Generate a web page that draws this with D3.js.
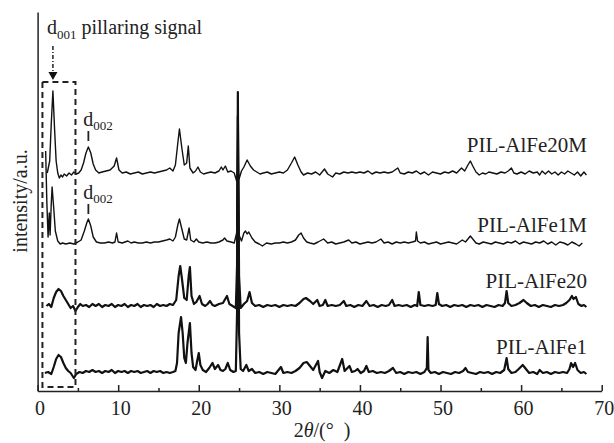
<!DOCTYPE html>
<html>
<head>
<meta charset="utf-8">
<script src="https://cdn.jsdelivr.net/npm/d3@7"></script>
<style>
  body { margin: 0; background: #fff; }
  svg text { font-family: "Liberation Serif", "Times New Roman", Times, "DejaVu Serif", serif; }
</style>
</head>
<body>
<script>
// XRD patterns, 2theta (deg) vs intensity (a.u., relative to each baseline)
const seriesNames = ['PIL-AlFe1', 'PIL-AlFe20', 'PIL-AlFe1M', 'PIL-AlFe20M']
const seriesOffsets = [18, 85, 148, 218]

const alfe1 = [[0.9,0],[1.3,1],[1.7,-1],[2.0,6],[2.3,14],[2.6,18],[2.9,16],[3.2,10],[3.5,5],[3.8,2],[4.1,0],[4.5,-5],[4.8,-1],[5.2,1],[5.6,0],[6,2],[6.4,1],[6.8,3],[7.2,1],[7.6,2],[8,0],[8.4,2],[8.8,1],[9.2,3],[9.6,0],[10,2],[10.4,1],[10.8,2],[11.2,0],[11.6,2],[12,1],[12.4,2],[12.8,0],[13.2,1],[13.6,2],[14,0],[14.4,2],[14.8,1],[15.2,2],[15.6,0],[16,1],[16.4,0],[16.8,1],[17.1,2],[17.3,10],[17.5,40],[17.8,56],[18.0,40],[18.2,15],[18.4,10],[18.6,30],[18.9,50],[19.1,20],[19.3,6],[19.6,3],[19.8,12],[20.0,20],[20.2,8],[20.5,3],[20.9,1],[21.3,5],[21.7,10],[22.0,4],[22.4,8],[22.7,3],[23.0,2],[23.3,4],[23.6,10],[23.9,3],[24.3,1],[24.6,2],[24.75,60],[24.85,281],[25.0,40],[25.2,4],[25.5,2],[25.9,8],[26.2,2],[26.6,4],[27,0],[27.5,1],[28,-1],[28.5,1],[29,0],[29.5,-1],[30.2,6],[30.5,0],[31,1],[31.5,0],[32,2],[32.5,5],[33.0,10],[33.4,11],[33.8,7],[34.2,3],[34.8,12],[35.0,1],[35.3,-5],[35.7,2],[36.2,0],[36.7,3],[37.2,1],[37.8,14],[38.1,2],[38.7,7],[39.0,1],[39.4,2],[39.7,4],[40.1,0],[40.5,2],[40.8,7],[41.1,1],[41.6,2],[42.1,0],[42.6,1],[43.1,0],[43.6,2],[44.1,5],[44.5,0],[45,1],[45.5,-1],[46,1],[46.5,0],[47,1],[47.5,-1],[48,1],[48.3,5],[48.4,36],[48.5,3],[48.8,0],[49.3,1],[49.8,-1],[50.3,1],[50.8,0],[51.3,-1],[51.8,1],[52.3,0],[52.8,2],[53.1,5],[53.4,1],[53.9,0],[54.4,-1],[54.9,1],[55.4,0],[55.9,1],[56.4,-1],[56.9,1],[57.4,0],[57.9,3],[58.2,15],[58.4,4],[58.8,0],[59.3,1],[59.7,4],[60.2,8],[60.6,4],[61.0,0],[61.5,1],[62.0,-1],[62.3,3],[62.7,0],[63.2,1],[63.7,-1],[64.2,1],[64.7,0],[65.2,1],[65.7,0],[66.0,4],[66.2,10],[66.45,6],[66.7,10],[67.0,3],[67.4,0],[67.8,1],[68.1,-1]]

const alfe20 = [[1.1,0],[1.4,2],[1.7,-1],[2.0,8],[2.3,14],[2.6,17],[2.9,15],[3.2,10],[3.5,6],[3.8,2],[4.1,-2],[4.4,0],[4.7,-5],[5.0,-1],[5.3,2],[5.6,0],[6,1],[6.4,-1],[6.8,2],[7.2,0],[7.6,2],[8,-1],[8.4,1],[8.8,0],[9.2,2],[9.6,-1],[10,1],[10.4,0],[10.8,2],[11.2,-1],[11.6,1],[12,0],[12.4,2],[12.8,-1],[13.2,1],[13.6,0],[14,1],[14.4,-1],[14.8,2],[15.2,0],[15.6,1],[16,0],[16.4,2],[16.8,1],[17.2,6],[17.5,30],[17.7,40],[17.9,28],[18.2,8],[18.5,6],[18.75,30],[18.9,39],[19.1,10],[19.4,2],[19.7,4],[20.1,10],[20.4,2],[20.8,0],[21.1,2],[21.4,5],[21.7,1],[22,0],[22.5,2],[23.0,3],[23.5,10],[23.8,2],[24.2,0],[24.6,-2],[24.75,40],[24.85,190],[25.0,30],[25.2,-2],[25.6,2],[26.0,5],[26.3,14],[26.6,3],[27,0],[27.5,1],[28,-1],[28.5,1],[29,0],[29.5,1],[30,-1],[30.5,1],[31,0],[31.5,1],[32,0],[32.5,3],[33.0,7],[33.3,8],[33.8,5],[34.2,2],[34.7,6],[35.0,0],[35.4,1],[35.7,6],[36,0],[36.5,1],[37,0],[37.5,1],[38.0,5],[38.3,0],[38.8,1],[39.3,-1],[39.8,1],[40.3,0],[40.8,5],[41.2,0],[41.7,1],[42.2,-1],[42.7,1],[43.2,0],[43.6,1],[44.0,6],[44.3,0],[44.8,1],[45.3,0],[45.8,1],[46.3,-1],[46.8,1],[47.1,0],[47.3,14],[47.5,1],[48,0],[48.5,1],[49,0],[49.4,1],[49.6,13],[49.8,2],[50.2,0],[50.7,1],[51.2,-1],[51.7,1],[52.2,0],[52.7,1],[53.2,-1],[53.7,1],[54.2,0],[54.7,1],[55.2,-1],[55.7,1],[56.2,0],[56.7,-1],[57.2,1],[57.7,0],[58.0,3],[58.2,15],[58.4,3],[58.8,0],[59.3,1],[59.8,3],[60.3,6],[60.7,3],[61.2,0],[61.7,1],[62.2,-1],[62.7,1],[63.2,0],[63.7,-1],[64.2,1],[64.7,0],[65.2,1],[65.6,3],[66.0,6],[66.3,10],[66.5,7],[66.8,9],[67.1,2],[67.5,0],[67.8,1],[68.1,-1]]

const alfe1m = [[1.0,92],[1.15,40],[1.3,6],[1.45,30],[1.55,8],[1.7,40],[1.8,56],[2.0,35],[2.2,12],[2.5,2],[2.8,-1],[3.1,0],[3.5,-1],[4,0],[4.5,-1],[5.0,1],[5.4,3],[5.8,12],[6.1,20],[6.3,24],[6.6,17],[6.9,6],[7.3,1],[7.8,0],[8.3,0],[8.8,1],[9.3,0],[9.6,1],[9.8,10],[10.0,1],[10.5,0],[11.2,2],[11.6,0],[12,1],[12.5,0],[13,0],[13.5,1],[14,0],[14.5,1],[15,1],[15.5,2],[16,3],[16.4,4],[16.8,2],[17.1,6],[17.4,18],[17.6,24],[17.9,14],[18.2,4],[18.5,3],[18.8,15],[19.0,3],[19.4,1],[19.7,4],[20.0,1],[20.5,0],[21,1],[21.5,0],[22,0],[22.5,1],[23,3],[23.2,5],[23.5,2],[24,1],[24.4,0],[24.7,10],[24.85,120],[25.0,8],[25.3,2],[25.6,10],[25.8,12],[26.0,9],[26.2,11],[26.6,5],[27.0,1],[27.5,-1],[27.9,-3],[28.4,0],[29,-1],[29.5,0],[30,0],[30.5,1],[31,0],[31.5,1],[32,3],[32.4,8],[32.7,10],[33.0,5],[33.4,1],[33.8,0],[34.3,-1],[34.8,1],[35.5,4],[36,0],[36.5,1],[37,-1],[37.5,0],[38,1],[38.6,3],[39,0],[39.5,1],[40,-1],[40.5,0],[41,1],[41.5,0],[42,1],[42.6,4],[43,0],[43.5,1],[44,-1],[44.5,1],[45,0],[45.5,1],[46,0],[46.5,1],[46.9,2],[47.0,11],[47.15,2],[47.5,0],[48,1],[48.5,-1],[49,0],[49.5,1],[50,-1],[50.5,0],[51,1],[51.5,0],[52,-1],[52.7,3],[53.1,1],[53.5,5],[53.7,7],[54.0,4],[54.4,0],[54.8,-1],[55.3,1],[55.8,0],[56.3,-1],[56.8,1],[57.3,0],[57.8,-1],[58.3,1],[58.8,0],[59.3,2],[59.8,-1],[60.3,1],[60.8,0],[61.3,-1],[61.8,1],[62.3,0],[62.8,2],[63.3,-1],[63.8,1],[64.3,-2],[64.8,1],[65.3,0],[65.8,-2],[66.3,1],[66.8,-1],[67.2,-3],[67.6,0]]

const alfe20m = [[1.2,0],[1.5,12],[1.7,50],[1.9,82],[2.1,45],[2.3,12],[2.5,0],[2.7,-5],[2.9,-2],[3.1,-4],[3.3,-1],[3.6,-3],[3.9,0],[4.2,-2],[4.5,1],[4.8,-1],[5.1,0],[5.4,3],[5.7,10],[6.0,20],[6.3,26],[6.6,20],[6.9,9],[7.2,3],[7.6,0],[8.0,1],[8.5,2],[9.0,3],[9.5,7],[9.8,15],[10.1,3],[10.5,0],[11,1],[11.5,-1],[12,0],[12.5,1],[13,-1],[13.5,0],[14,1],[14.5,0],[15,1],[15.5,2],[16,3],[16.4,5],[16.8,2],[17.1,8],[17.4,30],[17.6,44],[17.9,25],[18.2,8],[18.5,10],[18.7,27],[18.9,5],[19.3,0],[19.6,2],[19.9,6],[20.2,1],[20.6,-1],[21,0],[21.5,1],[22,0],[22.5,2],[22.8,6],[23.0,3],[23.3,7],[23.6,1],[24,2],[24.4,0],[24.7,-8],[24.85,5],[25.0,-6],[25.3,2],[25.6,6],[26.0,13],[26.4,7],[26.8,3],[27.2,1],[27.6,-1],[28,0],[28.5,1],[29,-1],[29.5,0],[30,1],[30.5,0],[31.0,3],[31.5,10],[31.9,16],[32.3,8],[32.7,1],[33,-2],[33.5,0],[34,-1],[34.5,1],[35,-2],[35.6,4],[36,-1],[36.6,-4],[37,0],[37.5,-1],[38,1],[38.5,0],[39,1],[39.5,0],[40,1],[40.5,0],[41,2],[41.5,-1],[42,1],[42.5,0],[43,1],[43.5,0],[44,1],[44.7,5],[45,0],[45.5,-1],[46,1],[46.5,0],[47,2],[47.5,-1],[48,1],[48.5,-2],[49,1],[49.5,0],[50,-1],[50.5,1],[51,0],[51.5,2],[52,0],[52.6,5],[53.0,2],[53.4,8],[53.7,12],[54.0,7],[54.4,1],[54.8,-2],[55.2,0],[55.6,-1],[56,1],[56.5,0],[57,-1],[57.5,1],[58,0],[58.4,2],[58.8,5],[59.1,0],[59.5,-1],[60,1],[60.5,-1],[61,2],[61.5,0],[62,1],[62.3,-2],[62.6,2],[63,-1],[63.4,2],[63.8,-1],[64.2,1],[64.6,-2],[65,1],[65.4,-1],[65.8,2],[66.2,0],[66.6,-2],[67,1],[67.4,-3],[67.8,1],[68.1,-2]]

const seriesData = [alfe1, alfe20, alfe1m, alfe20m]

const xMajorTicks = [0, 10, 20, 30, 40, 50, 60, 70]
const xMinorTicks = [5, 15, 25, 35, 45, 55, 65]

// d001 / d002 annotations (2theta positions)
const d001Box = [0.6, 4.7]
const d002Pos = 6.3

const width = 614
const height = 443

const x = d3.scaleLinear().domain([0, 70]).range([37.6, 601.7])
const y = d3.scaleLinear().domain([0, 379]).range([391, 12])

const svg = d3.select('body').append('svg')
  .attr('width', width)
  .attr('height', height)

svg.append('rect').attr('width', width).attr('height', height).attr('fill', '#fff')

// curves
const line = d3.line()
  .x(d => x(d[0]))
  .y(d => y(d[1]))

const strokeW = [2.2, 2.2, 1.4, 1.4]
seriesData.forEach(function (data, i) {
  const off = seriesOffsets[i]
  svg.append('path')
    .datum(data.map(d => [d[0], d[1] + off]))
    .attr('fill', 'none')
    .attr('stroke', '#111')
    .attr('stroke-width', strokeW[i])
    .attr('stroke-linejoin', 'round')
    .attr('d', line)
})

// series labels
const labelLift = [19, 18, 11, 21]
seriesNames.forEach(function (name, i) {
  svg.append('text')
    .attr('x', 587)
    .attr('y', y(seriesOffsets[i]) - labelLift[i])
    .attr('text-anchor', 'end')
    .attr('font-size', 21)
    .attr('fill', '#222')
    .text(name)
})

// axes
const axisMajor = d3.axisBottom(x)
  .tickValues(xMajorTicks)
  .tickSizeInner(-6)
  .tickSizeOuter(0)
  .tickPadding(10)
  .tickFormat(d3.format('d'))
const gx = svg.append('g')
  .attr('transform', 'translate(0,' + y(0) + ')')
  .call(axisMajor)
gx.attr('font-family', null)
gx.selectAll('text').attr('font-size', 20).attr('fill', '#222').attr('dx', 2)
gx.selectAll('line, path').attr('stroke', '#222').attr('stroke-width', 1.5)

const axisMinor = d3.axisBottom(x)
  .tickValues(xMinorTicks)
  .tickSizeInner(-3)
  .tickSizeOuter(0)
  .tickFormat('')
const gm = svg.append('g')
  .attr('transform', 'translate(0,' + y(0) + ')')
  .call(axisMinor)
gm.select('.domain').remove()
gm.selectAll('line').attr('stroke', '#222').attr('stroke-width', 1.5)

const gy = svg.append('g')
  .attr('transform', 'translate(' + x(0) + ',0)')
  .call(d3.axisLeft(y).tickValues([]).tickSizeOuter(0))
gy.selectAll('path').attr('stroke', '#222').attr('stroke-width', 1.5)

// axis titles
const xt = svg.append('text')
  .attr('x', 322)
  .attr('y', 437)
  .attr('text-anchor', 'middle')
  .attr('font-size', 20)
  .attr('fill', '#222')
xt.append('tspan').text('2')
xt.append('tspan').attr('font-style', 'italic').text('θ')
xt.append('tspan').text('/(°\u2002)')

svg.append('text')
  .attr('transform', 'translate(27,201) rotate(-90)')
  .attr('text-anchor', 'middle')
  .attr('font-size', 20)
  .attr('fill', '#222')
  .text('intensity/a.u.')

// d001 dashed box + arrow
svg.append('rect')
  .attr('x', x(d001Box[0]))
  .attr('y', 82)
  .attr('width', x(d001Box[1]) - x(d001Box[0]))
  .attr('height', 387 - 82)
  .attr('fill', 'none')
  .attr('stroke', '#222')
  .attr('stroke-width', 2)
  .attr('stroke-dasharray', '6,4')

const ax = x(1.9)
svg.append('line')
  .attr('x1', ax).attr('x2', ax)
  .attr('y1', 46).attr('y2', 72)
  .attr('stroke', '#222')
  .attr('stroke-width', 1.5)
  .attr('stroke-dasharray', '4,2,1,2')
svg.append('path')
  .attr('d', 'M' + (ax - 4.5) + ',72 L' + (ax + 4.5) + ',72 L' + ax + ',80 Z')
  .attr('fill', '#111')

const t1 = svg.append('text')
  .attr('x', 47)
  .attr('y', 34)
  .attr('font-size', 20)
  .attr('fill', '#222')
t1.append('tspan').text('d')
t1.append('tspan').attr('font-size', 13).attr('dy', 5).text('001')
t1.append('tspan').attr('dy', -5).text(' pillaring signal')

// d002 labels
const d002Y = [126, 199]
d002Y.forEach(function (ty) {
  const t = svg.append('text')
    .attr('x', x(d002Pos) - 5)
    .attr('y', ty)
    .attr('font-size', 20)
    .attr('fill', '#222')
  t.append('tspan').text('d')
  t.append('tspan').attr('font-size', 13).attr('dy', 4).text('002')
  svg.append('line')
    .attr('x1', x(d002Pos)).attr('x2', x(d002Pos))
    .attr('y1', ty + 5).attr('y2', ty + 15)
    .attr('stroke', '#222')
    .attr('stroke-width', 1.8)
})
</script>
</body>
</html>
